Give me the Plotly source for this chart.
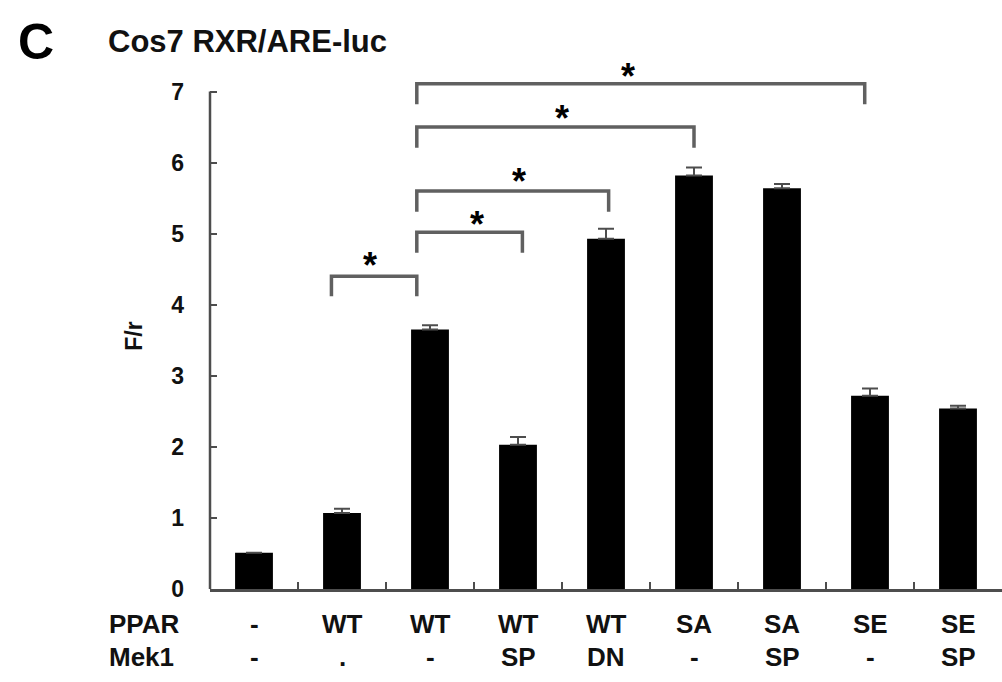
import plotly.graph_objects as go

# ---- data ----
ppar = ["-", "WT", "WT", "WT", "WT", "SA", "SA", "SE", "SE"]
mek1 = ["-", ".", "-", "SP", "DN", "-", "SP", "-", "SP"]
values = [0.51, 1.07, 3.65, 2.03, 4.93, 5.82, 5.64, 2.72, 2.54]
errors = [0.0, 0.06, 0.06, 0.11, 0.14, 0.11, 0.06, 0.10, 0.04]

# significance brackets: (left category pos, right category pos, top y, foot y)
br_left = [0.88, 1.85, 1.85, 1.85, 1.85]
br_right = [1.85, 3.05, 4.03, 5.0, 6.94]
br_top = [4.40, 5.02, 5.60, 6.50, 7.11]
br_foot = [4.12, 4.73, 5.31, 6.21, 6.82]
star_x = [1.32, 2.53, 3.01, 3.50, 4.25]
star_y = [4.66, 5.24, 5.84, 6.74, 7.33]

ytick_vals = [0, 1, 2, 3, 4, 5, 6, 7]

FONT = "Liberation Sans, Arial, sans-serif"
GRAY = "#4d4d4d"

x = list(range(len(values)))

fig = go.Figure()
fig.add_trace(go.Bar(
    x=x, y=values, width=0.43,
    marker=dict(color="black", line=dict(width=0)),
    error_y=dict(type="data", array=errors, arrayminus=[0] * len(errors),
                 symmetric=False, color=GRAY, thickness=2, width=8),
    showlegend=False,
))

for l, r, t, f in zip(br_left, br_right, br_top, br_foot):
    fig.add_trace(go.Scatter(
        x=[l, l, r, r], y=[f, t, t, f], mode="lines",
        line=dict(color="#606060", width=3.5), showlegend=False,
        hoverinfo="skip",
    ))

annotations = []
for sx, sy in zip(star_x, star_y):
    annotations.append(dict(x=sx, y=sy, xref="x", yref="y", text="<b>*</b>",
                            showarrow=False, font=dict(family=FONT, size=36, color="black"),
                            xanchor="center", yanchor="middle", yshift=-8))

# row labels
row_font = dict(family=FONT, size=26, color="#111")
for i, (p, m) in enumerate(zip(ppar, mek1)):
    annotations.append(dict(x=i, y=-0.065, xref="x", yref="paper", text=f"<b>{p}</b>",
                            showarrow=False, font=row_font, xanchor="center", yanchor="middle"))
    annotations.append(dict(x=i, y=-0.127, xref="x", yref="paper", text=f"<b>{m}</b>",
                            showarrow=False, font=row_font, xanchor="center", yanchor="middle"))
annotations.append(dict(x=-0.130, y=-0.065, xref="paper", yref="paper", text="<b>PPAR</b>",
                        showarrow=False, font=row_font, xanchor="left", yanchor="middle"))
annotations.append(dict(x=-0.130, y=-0.127, xref="paper", yref="paper", text="<b>Mek1</b>",
                        showarrow=False, font=row_font, xanchor="left", yanchor="middle"))

# panel letter and title
annotations.append(dict(x=-0.245, y=1.0, xref="paper", yref="paper", text="<b>C</b>",
                        showarrow=False, font=dict(family=FONT, size=50, color="black"),
                        xanchor="left", yanchor="middle", yshift=14))
annotations.append(dict(x=-0.131, y=1.0, xref="paper", yref="paper", text="<b>Cos7 RXR/ARE-luc</b>",
                        showarrow=False, font=dict(family=FONT, size=31, color="#111"),
                        xanchor="left", yanchor="middle", yshift=15))
# y axis title
annotations.append(dict(x=0, y=3.55, xref="paper", yref="y", text="<b>F/r</b>",
                        showarrow=False, textangle=-90, xshift=-76,
                        font=dict(family=FONT, size=23, color="#111"),
                        xanchor="center", yanchor="middle"))

fig.update_layout(
    width=1002, height=682,
    margin=dict(l=210, r=0, t=56, b=93),
    paper_bgcolor="white", plot_bgcolor="white",
    xaxis=dict(range=[-0.5, 8.5], showgrid=False, zeroline=False,
               showline=True, linecolor=GRAY, linewidth=2.5,
               tickvals=[i + 0.5 for i in range(len(values) - 1)],
               ticks="inside", ticklen=7, tickwidth=2, tickcolor=GRAY,
               showticklabels=False),
    yaxis=dict(range=[0, 7.5], showgrid=False, zeroline=False, showline=False,
               tickvals=ytick_vals, ticktext=[f"<b>{v}</b>" for v in ytick_vals],
               ticks="inside", ticklen=7, tickwidth=2, tickcolor=GRAY,
               ticklabelstandoff=25,
               tickfont=dict(family=FONT, size=23, color="#111")),
    shapes=[dict(type="line", xref="paper", yref="y", x0=0, x1=0, y0=0, y1=7,
                 line=dict(color=GRAY, width=2.5))],
    annotations=annotations,
    bargap=0.5,
)

fig.write_html("out.html")
